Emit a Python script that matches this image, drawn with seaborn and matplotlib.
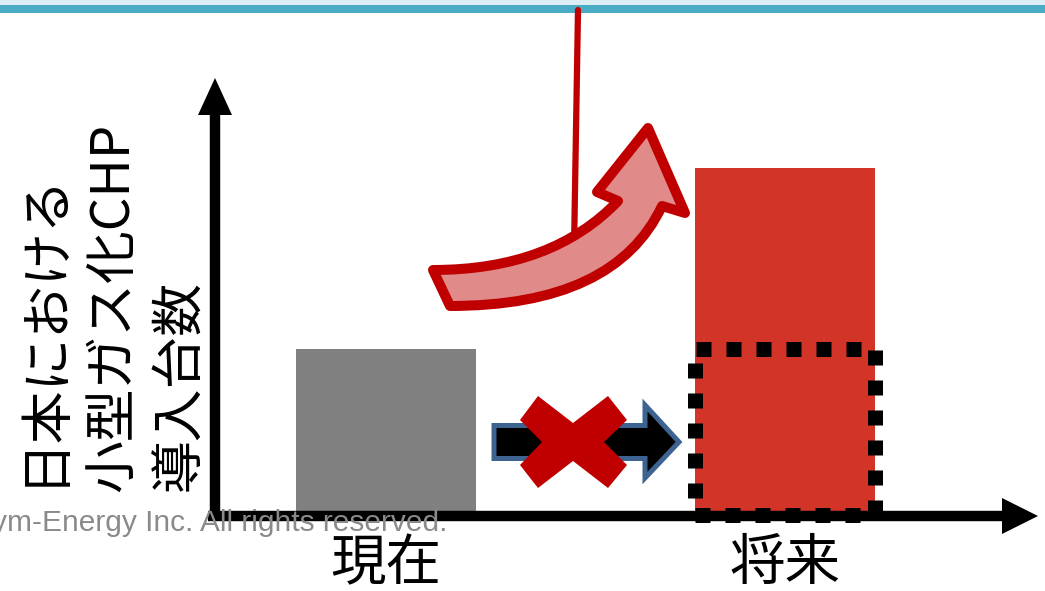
import matplotlib
matplotlib.use("Agg")
import matplotlib.pyplot as plt
import seaborn as sns
import pandas as pd
from matplotlib.patches import Rectangle, Polygon, PathPatch
from matplotlib.path import Path

# ---- data ----
categories = ["現在", "将来"]
values = [1.0, 2.09]            # relative number of installed units
bar_colors = ["#808080", "#d23427"]
unchanged_value = 1.0           # dotted box: future if nothing changes
ylabel_lines = ["日本における", "小型ガス化CHP", "導入台数"]
watermark = "ym-Energy Inc. All rights reserved."

sns.set_theme(style="white")
plt.rcParams['font.family'] = ['Noto Sans CJK JP', 'DejaVu Sans']

W, H = 1045, 591
fig = plt.figure(figsize=(W / 100, H / 100), dpi=100)
fig.patch.set_facecolor("white")

# data axes for the bars
ax = fig.add_axes([213 / W, (H - 515) / H, (1000 - 213) / W, (515 - 80) / H])
df = pd.DataFrame({"cat": categories, "val": values})
sns.barplot(data=df, x="cat", y="val", hue="cat", palette=bar_colors,
            width=0.45, linewidth=0, saturation=1, legend=False, ax=ax)
ax.set_xlim(-0.4336, 1.5388)
ax.set_ylim(0, 2.6205)
for s in ax.spines.values():
    s.set_visible(False)
ax.set_yticks([])
ax.set_xlabel("")
ax.set_ylabel("")
ax.tick_params(axis="x", length=0, pad=15, labelsize=40, labelcolor="black")
ax.set_facecolor("none")

# dotted box at the future position with the current height
ax.add_patch(Rectangle((1 - 0.2255, 0), 0.451, unchanged_value, fill=False,
                       edgecolor="black", linewidth=10.8,
                       linestyle=(0, (1, 1)), capstyle="butt", zorder=5,
                       clip_on=False))

# overlay axes in pixel coordinates
ov = fig.add_axes([0, 0, 1, 1], zorder=10)
ov.set_xlim(0, W)
ov.set_ylim(H, 0)
ov.axis("off")
ov.set_facecolor("none")

# top band
ov.add_patch(Rectangle((0, 0), W, 5, color="#dbeef4", lw=0))
ov.add_patch(Rectangle((0, 5), W, 8, color="#4bacc6", lw=0))

# axes arrows
ov.plot([208, 1003], [516, 516], color="black", lw=7.5, solid_capstyle="butt")
ov.add_patch(Polygon([(1002, 498), (1038, 516), (1002, 534)], closed=True,
                     color="black", lw=0))
ov.plot([215, 215], [521, 114], color="black", lw=7.5, solid_capstyle="butt")
ov.add_patch(Polygon([(198, 115), (215, 78), (232, 115)], closed=True,
                     color="black", lw=0))

# red pointer line
ov.plot([578, 574], [10, 250], color="#c00000", lw=4.5, zorder=2)

# curved growth arrow
verts = [(433, 270), (552, 270), (618, 201), (597, 192), (648, 128),
         (685, 213), (662, 206), (615, 306), (450, 306), (433, 270)]
codes = [Path.MOVETO, Path.CURVE3, Path.CURVE3, Path.LINETO, Path.LINETO,
         Path.LINETO, Path.LINETO, Path.CURVE3, Path.CURVE3, Path.CLOSEPOLY]
ov.add_patch(PathPatch(Path(verts, codes), facecolor="#e18a8a",
                       edgecolor="#c00000", lw=7.2, joinstyle="round",
                       zorder=3))

# black arrow (blocked)
ov.add_patch(Polygon([(494, 425.5), (645, 425.5), (645, 405), (679, 442),
                      (645, 478), (645, 458.5), (494, 458.5)], closed=True,
                     facecolor="black", edgecolor="#3d6391", lw=3.6,
                     joinstyle="miter", zorder=3))
# red cross
ov.add_patch(Polygon([(538, 396), (573, 423), (608, 396), (627, 420),
                      (604, 442), (627, 465), (608, 488), (573, 461),
                      (538, 488), (520, 465), (542, 442), (520, 420)],
                     closed=True, facecolor="#c00000", lw=0, zorder=4))

# y label (vertical, three columns)
for x, yb, txt in zip([42, 113, 180], [486, 492, 491], ylabel_lines):
    ov.text(x, yb, txt, rotation=90, ha="center", va="bottom",
            fontsize=38, color="black")

# watermark
ov.text(447, 531, watermark, ha="right", va="baseline", fontsize=21.5,
        color="#8a8a8a", family=["Liberation Sans", "DejaVu Sans"], zorder=20)

fig.savefig("out.png", dpi=100)
